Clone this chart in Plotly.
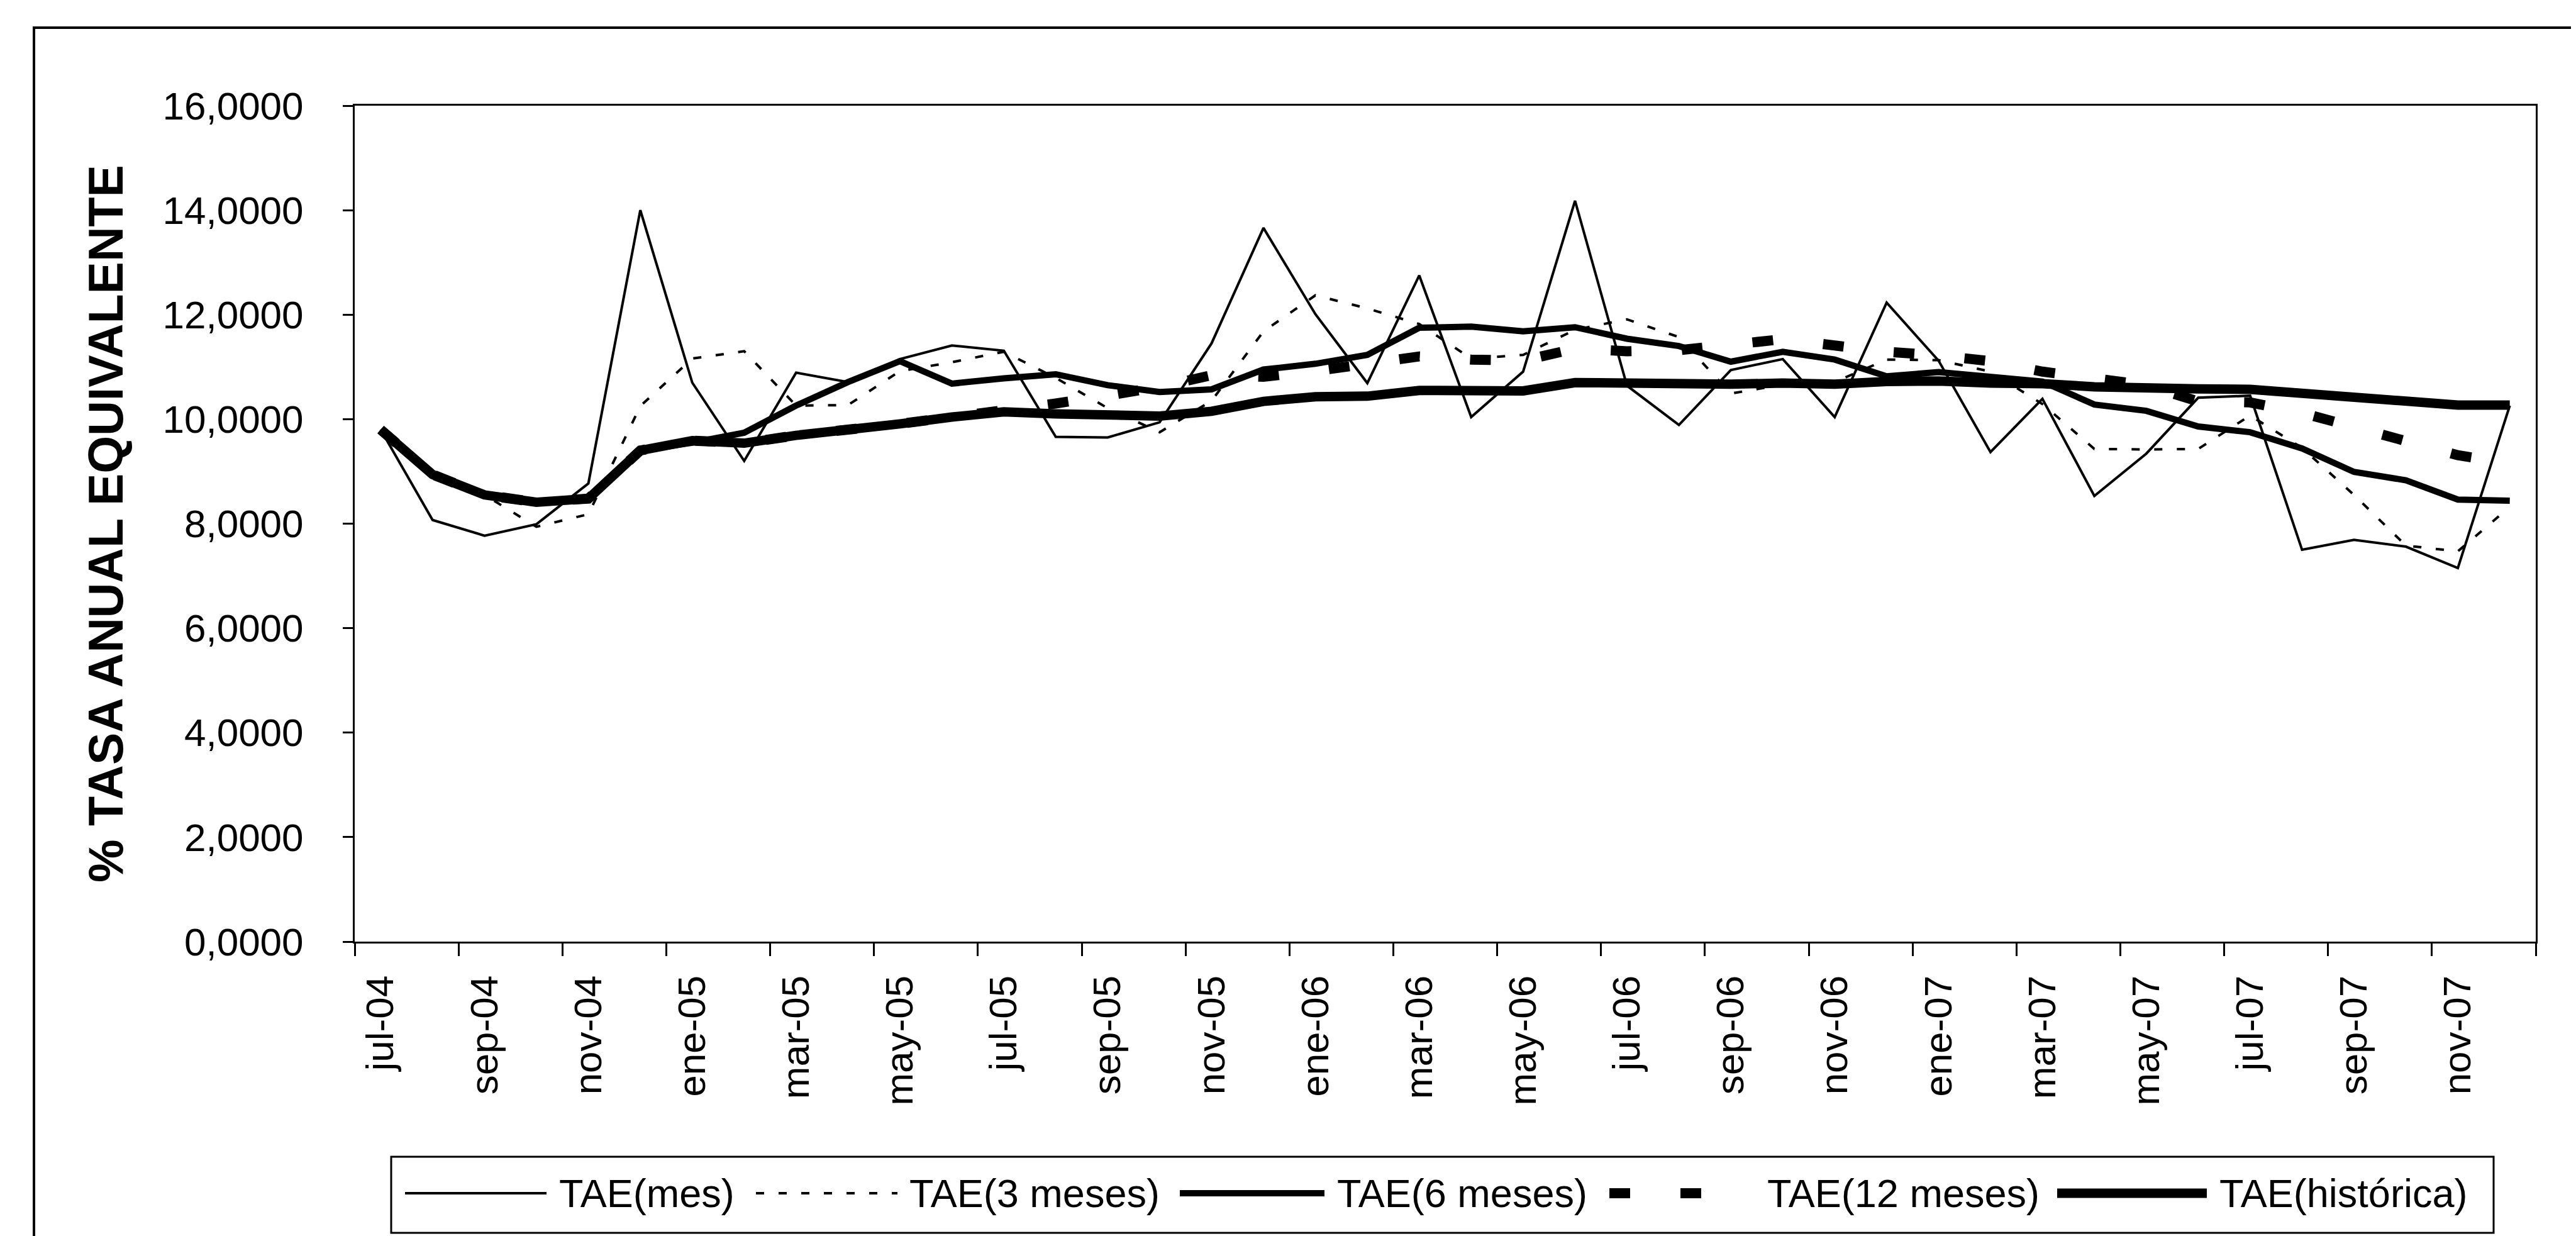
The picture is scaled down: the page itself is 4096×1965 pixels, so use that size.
import plotly.graph_objects as go

# ---------------- data ----------------
months = ["jul-04", "ago-04", "sep-04", "oct-04", "nov-04", "dic-04",
          "ene-05", "feb-05", "mar-05", "abr-05", "may-05", "jun-05",
          "jul-05", "ago-05", "sep-05", "oct-05", "nov-05", "dic-05",
          "ene-06", "feb-06", "mar-06", "abr-06", "may-06", "jun-06",
          "jul-06", "ago-06", "sep-06", "oct-06", "nov-06", "dic-06",
          "ene-07", "feb-07", "mar-07", "abr-07", "may-07", "jun-07",
          "jul-07", "ago-07", "sep-07", "oct-07", "nov-07", "dic-07"]

tick_labels = ["jul-04", "sep-04", "nov-04", "ene-05", "mar-05", "may-05",
               "jul-05", "sep-05", "nov-05", "ene-06", "mar-06", "may-06",
               "jul-06", "sep-06", "nov-06", "ene-07", "mar-07", "may-07",
               "jul-07", "sep-07", "nov-07"]

tae_mes = [9.80, 8.07, 7.77, 7.99, 8.77, 14.00, 10.70, 9.20, 10.89, 10.71,
           11.15, 11.41, 11.31, 9.66, 9.65, 9.94, 11.45, 13.66, 12.01, 10.69,
           12.75, 10.04, 10.91, 14.18, 10.64, 9.89, 10.94, 11.15, 10.04, 12.23,
           11.12, 9.37, 10.39, 8.53, 9.34, 10.41, 10.45, 7.50, 7.69, 7.56,
           7.15, 10.26]

tae_3m = [9.80, 8.94, 8.55, 7.94, 8.18, 10.25, 11.16, 11.30, 10.26, 10.27,
          10.92, 11.09, 11.29, 10.79, 10.21, 9.75, 10.35, 11.68, 12.37, 12.12,
          11.82, 11.16, 11.23, 11.71, 11.91, 11.57, 10.49, 10.66, 10.71, 11.14,
          11.13, 10.91, 10.29, 9.43, 9.42, 9.43, 10.07, 9.45, 8.55, 7.58,
          7.47, 8.32]

tae_6m = [9.80, 8.94, 8.55, 8.41, 8.48, 9.40, 9.55, 9.74, 10.26, 10.71,
          11.11, 10.68, 10.78, 10.86, 10.65, 10.52, 10.57, 10.95, 11.06, 11.23,
          11.75, 11.77, 11.68, 11.76, 11.54, 11.40, 11.10, 11.29, 11.14, 10.82,
          10.90, 10.81, 10.72, 10.28, 10.16, 9.86, 9.75, 9.44, 8.99, 8.83,
          8.46, 8.44]

tae_12m = [9.80, 8.94, 8.55, 8.41, 8.48, 9.40, 9.59, 9.54, 9.69, 9.79,
           9.91, 10.04, 10.16, 10.30, 10.45, 10.62, 10.84, 10.81, 10.92, 11.04,
           11.20, 11.14, 11.12, 11.35, 11.30, 11.32, 11.43, 11.53, 11.41, 11.29,
           11.22, 11.11, 10.91, 10.78, 10.65, 10.34, 10.32, 10.12, 9.85, 9.55,
           9.31, 9.15]

tae_hist = [9.80, 8.94, 8.55, 8.41, 8.48, 9.40, 9.59, 9.54, 9.69, 9.79,
            9.91, 10.04, 10.14, 10.10, 10.07, 10.06, 10.15, 10.34, 10.43, 10.44,
            10.55, 10.53, 10.54, 10.70, 10.69, 10.66, 10.67, 10.69, 10.67, 10.72,
            10.73, 10.69, 10.68, 10.62, 10.58, 10.58, 10.57, 10.49, 10.42, 10.35,
            10.27, 10.27]

series_names = ["TAE(mes)", "TAE(3 meses)", "TAE(6 meses)", "TAE(12 meses)", "TAE(histórica)"]
y_ticks = [0, 2, 4, 6, 8, 10, 12, 14, 16]
y_title = "% TASA ANUAL EQUIVALENTE"

# ---------------- layout geometry / styles ----------------
W, H = 4096, 1965
L, R, T, B = 556, 72, 160, 476
PW, PH = W - L - R, H - T - B
FONT = "Arial, Liberation Sans, sans-serif"

line_styles = [
    dict(color="black", width=4, dash="solid"),
    dict(color="black", width=4, dash="13px,23px"),
    dict(color="black", width=10, dash="solid"),
    dict(color="black", width=16, dash="33px,80px"),
    dict(color="black", width=15, dash="solid"),
]


def px(x):
    return (x - L) / PW


def py(y):
    return (H - B - y) / PH


x_idx = list(range(len(months)))
all_series = [tae_mes, tae_3m, tae_6m, tae_12m, tae_hist]

fig = go.Figure()
for name, vals, st in zip(series_names, all_series, line_styles):
    fig.add_trace(go.Scatter(
        x=x_idx, y=vals, name=name, mode="lines", line=st,
        customdata=months, hovertemplate="%{customdata}: %{y:.4f}<extra>" + name + "</extra>",
        showlegend=False,
    ))

# ---------------- manual legend (long samples like the original) ----------------
shapes = []
annotations = []
leg_box = (614, 1831, 3957, 1952)
shapes.append(dict(type="rect", xref="paper", yref="paper",
                   x0=px(leg_box[0]), x1=px(leg_box[2]),
                   y0=py(leg_box[3]), y1=py(leg_box[1]),
                   line=dict(color="black", width=3), fillcolor="rgba(0,0,0,0)"))
leg_y = 1889
sample_x = [(636, 861, 879), (1194, 1419, 1436), (1868, 2098, 2116),
            (2551, 2776, 2800), (3263, 3501, 3519)]
for name, st, (a, b, tx) in zip(series_names, line_styles, sample_x):
    shapes.append(dict(type="line", xref="paper", yref="paper",
                       x0=px(a), x1=px(b), y0=py(leg_y), y1=py(leg_y),
                       line=dict(color="black", width=st["width"], dash=st["dash"])))
    annotations.append(dict(xref="paper", yref="paper", x=px(tx), y=py(leg_y),
                            text=name, showarrow=False, xanchor="left", yanchor="middle",
                            font=dict(family=FONT, size=63, color="black")))

# outer chart frame (left and top edges visible in the reference)
shapes.append(dict(type="line", xref="paper", yref="paper",
                   x0=px(46), x1=px(46), y0=py(36), y1=py(H + 20),
                   line=dict(color="black", width=4)))
shapes.append(dict(type="line", xref="paper", yref="paper",
                   x0=px(44), x1=px(W + 20), y0=py(36), y1=py(36),
                   line=dict(color="black", width=4)))

fig.update_layout(
    width=W, height=H,
    margin=dict(l=L, r=R, t=T, b=B, autoexpand=False),
    paper_bgcolor="white", plot_bgcolor="white",
    separators=",.",
    font=dict(family=FONT, color="black", size=62),
    shapes=shapes, annotations=annotations,
    showlegend=False,
)

fig.update_xaxes(
    range=[-0.5, len(months) - 0.5],
    tickmode="array", tickvals=x_idx[::2], ticktext=tick_labels,
    tickangle=-90, ticks="", ticklabelstandoff=26,
    tickfont=dict(family=FONT, size=62, color="black"),
    minor=dict(tick0=-0.5, dtick=2, ticks="outside", ticklen=20, tickwidth=3, tickcolor="black"),
    showline=True, linecolor="black", linewidth=3, mirror=True,
    showgrid=False, zeroline=False, automargin=False,
)

fig.update_yaxes(
    range=[0, 16], tickmode="array", tickvals=y_ticks, tickformat=".4f",
    ticks="outside", ticklen=16, tickwidth=3, tickcolor="black",
    ticklabelstandoff=50,
    tickfont=dict(family=FONT, size=62, color="black"),
    showline=True, linecolor="black", linewidth=3, mirror=True,
    showgrid=False, zeroline=False, automargin=False,
    title=dict(text=y_title, standoff=38,
               font=dict(family=FONT, size=77, color="black", weight="bold")),
)

fig.write_html("out.html")
